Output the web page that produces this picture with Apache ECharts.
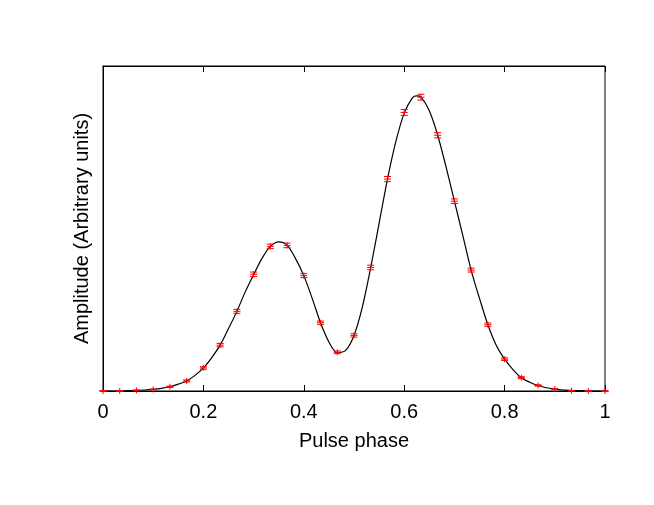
<!DOCTYPE html>
<html>
<head>
<meta charset="utf-8">
<script src="https://cdn.jsdelivr.net/npm/echarts@6/dist/echarts.min.js"></script>
<style>html,body{margin:0;padding:0;background:#fff}#c{width:654px;height:505px}</style>
</head>
<body>
<div id="c"></div>
<script>
// Model curve, phase step 1/60
var curvePhase = [0,0.0167,0.0333,0.05,0.0667,0.0833,0.1,0.1167,0.1333,0.15,0.1667,0.1833,0.2,0.2167,0.2333,0.25,0.2667,0.2833,0.3,0.3167,0.3333,0.35,0.3667,0.3833,0.4,0.4167,0.4333,0.45,0.4667,0.4833,0.5,0.5167,0.5333,0.55,0.5667,0.5833,0.6,0.6167,0.625,0.6333,0.65,0.6667,0.6833,0.7,0.7167,0.7333,0.75,0.7667,0.7833,0.8,0.8167,0.8333,0.85,0.8667,0.8833,0.9,0.9167,0.9333,0.95,0.9667,0.9833,1];
var curveAmp = [0,0,0,0.001,0.002,0.003,0.005,0.008,0.013,0.021,0.031,0.048,0.071,0.103,0.141,0.192,0.245,0.305,0.358,0.408,0.445,0.459,0.449,0.408,0.355,0.285,0.210,0.151,0.118,0.125,0.171,0.259,0.380,0.516,0.652,0.767,0.855,0.903,0.908,0.905,0.862,0.787,0.690,0.584,0.479,0.372,0.285,0.204,0.141,0.098,0.066,0.041,0.027,0.017,0.010,0.006,0.003,0.001,0.001,0,0,0];
// Measured points with error bars, phase step 1/30
var pointPhase = [0,0.0333,0.0667,0.1,0.1333,0.1667,0.2,0.2333,0.2667,0.3,0.3333,0.3667,0.4,0.4333,0.4667,0.5,0.5333,0.5667,0.6,0.6333,0.6667,0.7,0.7333,0.7667,0.8,0.8333,0.8667,0.9,0.9333,0.9667,1];
var pointAmp = [0,0,0.002,0.005,0.013,0.031,0.071,0.141,0.245,0.359,0.445,0.448,0.355,0.210,0.119,0.171,0.380,0.652,0.857,0.904,0.787,0.584,0.372,0.204,0.098,0.041,0.017,0.006,0.001,0,0];
var pointErr = [0.001,0.001,0.001,0.001,0.002,0.003,0.004,0.005,0.006,0.007,0.007,0.007,0.006,0.005,0.004,0.005,0.007,0.008,0.009,0.009,0.008,0.007,0.006,0.005,0.004,0.003,0.002,0.001,0.001,0.001,0.001];
var xTicks = [0,0.2,0.4,0.6,0.8,1];

var curveData = curvePhase.map(function(p,i){return [p, curveAmp[i]];});
var pointData = pointPhase.map(function(p,i){return [p, pointAmp[i], pointErr[i]];});

var FONT = 'Liberation Sans, Arial, Helvetica, sans-serif';
var chart = echarts.init(document.getElementById('c'), null, {renderer:'canvas'});
chart.setOption({
  animation:false,
  backgroundColor:'#fff',
  grid:{left:103,right:49,top:66,bottom:114,show:true,borderColor:'#000',borderWidth:1,containLabel:false,outerBoundsMode:'none'},
  xAxis:[{
    type:'value',min:0,max:1,interval:0.2,position:'bottom',
    name:'Pulse phase',nameLocation:'middle',nameGap:40,
    nameTextStyle:{fontFamily:FONT,fontSize:20,color:'#000'},
    axisLine:{show:true,lineStyle:{color:'#000',width:1}},
    axisTick:{show:true,inside:true,length:6,lineStyle:{color:'#000'}},
    axisLabel:{fontFamily:FONT,fontSize:20,color:'#000',margin:11,
      formatter:function(v){ for(var i=0;i<xTicks.length;i++){ if(Math.abs(v-xTicks[i])<1e-9) return String(xTicks[i]); } return ''; }},
    splitLine:{show:false}
  },{
    type:'value',min:0,max:1,interval:0.2,position:'top',
    axisLine:{show:true,lineStyle:{color:'#000',width:1}},
    axisTick:{show:true,inside:true,length:6,lineStyle:{color:'#000'}},
    axisLabel:{show:false},splitLine:{show:false}
  }],
  yAxis:{
    type:'value',min:0,max:1,
    name:'Amplitude (Arbitrary units)',nameLocation:'middle',nameGap:11,
    nameTextStyle:{fontFamily:FONT,fontSize:20,color:'#000'},
    axisLine:{show:true,lineStyle:{color:'#000',width:1}},
    axisTick:{show:false},axisLabel:{show:false},splitLine:{show:false}
  },
  series:[{
    type:'line',data:curveData,smooth:0.3,showSymbol:false,
    lineStyle:{color:'#000',width:1.2},z:2
  },{
    type:'custom',data:pointData,z:3,clip:false,
    renderItem:function(params,api){
      var x=api.value(0),y=api.value(1),e=api.value(2);
      var c=api.coord([x,y]);
      var top=api.coord([x,y+e])[1], bot=api.coord([x,y-e])[1];
      var hw=3.5, m=3;
      var st={stroke:'#ff0000',lineWidth:1};
      return {type:'group',children:[
        {type:'line',shape:{x1:c[0],y1:Math.min(top,c[1]-m),x2:c[0],y2:Math.max(bot,c[1]+m)},style:st},
        {type:'line',shape:{x1:c[0]-hw,y1:top,x2:c[0]+hw,y2:top},style:st},
        {type:'line',shape:{x1:c[0]-hw,y1:bot,x2:c[0]+hw,y2:bot},style:st},
        {type:'line',shape:{x1:c[0]-hw,y1:c[1],x2:c[0]+hw,y2:c[1]},style:st}
      ]};
    }
  }]
});
</script>
</body>
</html>
